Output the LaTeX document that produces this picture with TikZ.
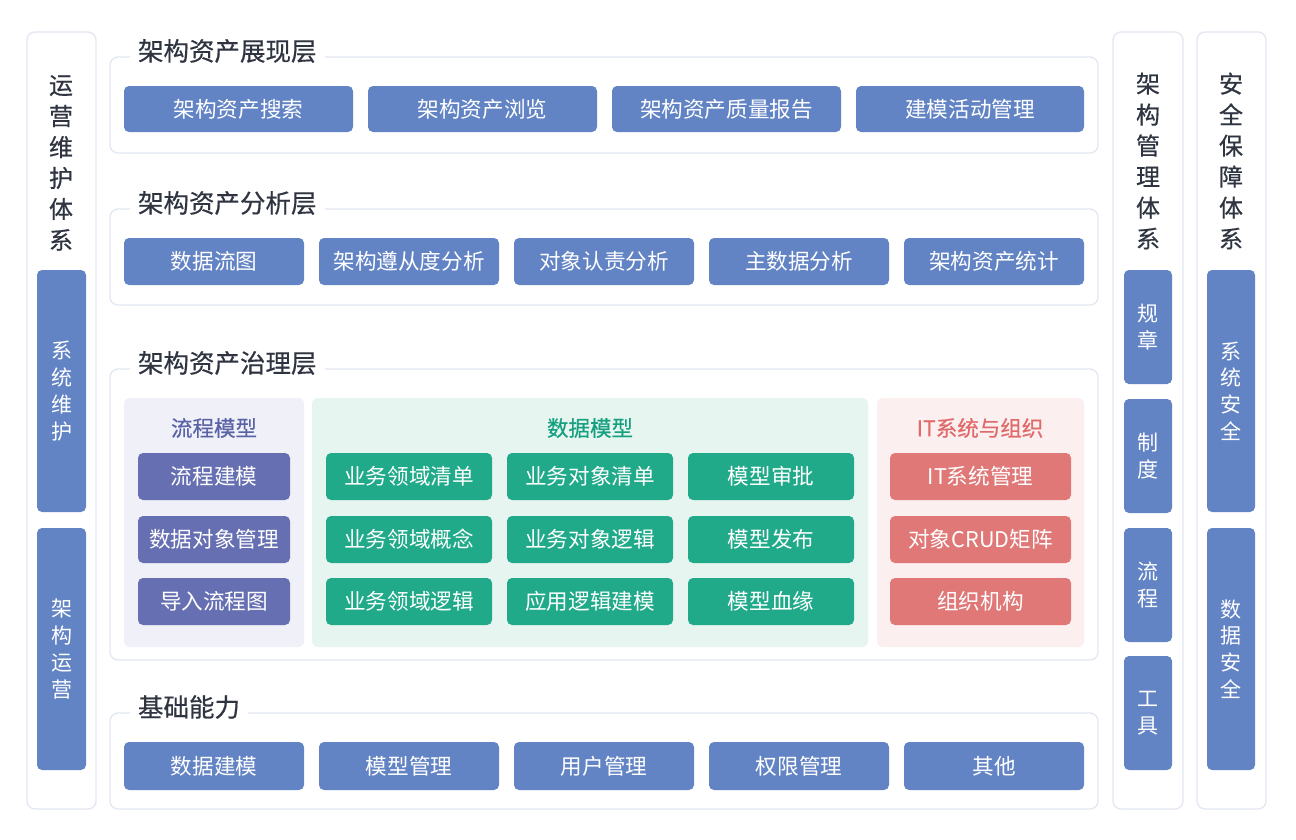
\documentclass[tikz,border=0pt]{standalone}
\usepackage{fontspec}
\setmainfont{Noto Sans CJK SC}
\newfontfamily\titlefont[FakeBold=0.5]{Noto Sans CJK SC}
\definecolor{cblue}{HTML}{6384C4}
\definecolor{cpurple}{HTML}{666FB2}
\definecolor{cpurplebg}{HTML}{EFF0F8}
\definecolor{cpurplet}{HTML}{5A63A6}
\definecolor{cgreen}{HTML}{20AA8A}
\definecolor{cgreenbg}{HTML}{E7F5F1}
\definecolor{cgreent}{HTML}{17A080}
\definecolor{cred}{HTML}{E07878}
\definecolor{credbg}{HTML}{FCEFEF}
\definecolor{credt}{HTML}{E06A6A}
\definecolor{cborder}{HTML}{E3E7F1}
\definecolor{ctitle}{HTML}{2F3441}
\newcommand\fs[2]{\fontsize{#1}{#2}\selectfont}
\newcommand\bx[7]{\node[#2, minimum width={(#5)-(#3)}, minimum height={(#6)-(#4)}] (#1) at ({((#3)+(#5))/2},{((#4)+(#6))/2}) {#7};}
\tikzset{
  base/.style={inner sep=0pt, outer sep=0pt},
  layer/.style={base, draw=cborder, line width=1.3pt, rounded corners=8pt, fill=white},
  sidebox/.style={base, draw=cborder, line width=1.3pt, rounded corners=8pt, fill=white},
  ltitle/.style={base, fill=white, inner xsep=8pt, inner ysep=3pt, text=ctitle, font=\titlefont\fs{25.5}{30}, anchor=west},
  btn/.style={base, rounded corners=5pt, text=white, font=\fs{21.6}{26}},
  bbtn/.style={btn, fill=cblue},
  pbtn/.style={btn, fill=cpurple},
  gbtn/.style={btn, fill=cgreen},
  rbtn/.style={btn, fill=cred},
  vbtn/.style={btn, fill=cblue, align=center, font=\fs{21}{26.8}},
  panel/.style={base, rounded corners=6pt},
  ptitle/.style={base, font=\titlefont\fs{21.5}{26}},
  vtitle/.style={base, align=center, text=ctitle, font=\titlefont\fs{24}{31}},
}
\begin{document}
\begin{tikzpicture}[x=1pt,y=-1pt]
\useasboundingbox[fill=white] (0,0) rectangle (1296,839);

% side columns
\bx{S1}{sidebox}{27}{32}{96}{809}{}
\node[vtitle] (S1t) at (61,163) {运\\营\\维\\护\\体\\系};
\bx{S1a}{vbtn}{37}{270}{86}{512}{系\\统\\维\\护}
\bx{S1b}{vbtn}{37}{528}{86}{770}{架\\构\\运\\营}

\bx{S2}{sidebox}{1113}{32}{1183}{809}{}
\node[vtitle] (S2t) at (1148,161) {架\\构\\管\\理\\体\\系};
\bx{S2a}{vbtn}{1124}{270}{1172}{384}{规\\章}
\bx{S2b}{vbtn}{1124}{399}{1172}{513}{制\\度}
\bx{S2c}{vbtn}{1124}{528}{1172}{642}{流\\程}
\bx{S2d}{vbtn}{1124}{656}{1172}{770}{工\\具}

\bx{S3}{sidebox}{1197}{32}{1266}{809}{}
\node[vtitle] (S3t) at (1231,161) {安\\全\\保\\障\\体\\系};
\bx{S3a}{vbtn}{1207}{270}{1255}{512}{系\\统\\安\\全}
\bx{S3b}{vbtn}{1207}{528}{1255}{770}{数\\据\\安\\全}

% layer 1
\bx{L1}{layer}{110}{57}{1098}{153}{}
\node[ltitle] (L1t) at (130,51) {架构资产展现层};
\bx{a1}{bbtn}{124}{86}{353}{132}{架构资产搜索}
\bx{a2}{bbtn}{368}{86}{597}{132}{架构资产浏览}
\bx{a3}{bbtn}{612}{86}{841}{132}{架构资产质量报告}
\bx{a4}{bbtn}{856}{86}{1084}{132}{建模活动管理}

% layer 2
\bx{L2}{layer}{110}{209}{1098}{305}{}
\node[ltitle] (L2t) at (130,203) {架构资产分析层};
\bx{b1}{bbtn}{124}{238}{304}{285}{数据流图}
\bx{b2}{bbtn}{319}{238}{499}{285}{架构遵从度分析}
\bx{b3}{bbtn}{514}{238}{694}{285}{对象认责分析}
\bx{b4}{bbtn}{709}{238}{889}{285}{主数据分析}
\bx{b5}{bbtn}{904}{238}{1084}{285}{架构资产统计}

% layer 3
\bx{L3}{layer}{110}{369}{1098}{660}{}
\node[ltitle] (L3t) at (130,363) {架构资产治理层};
\bx{P1}{panel, fill=cpurplebg}{124}{398}{304}{647}{}
\bx{P2}{panel, fill=cgreenbg}{312}{398}{868}{647}{}
\bx{P3}{panel, fill=credbg}{877}{398}{1084}{647}{}
\node[ptitle, text=cpurplet] (P1t) at (214,428) {流程模型};
\node[ptitle, text=cgreent] (P2t) at (590,428) {数据模型};
\node[ptitle, text=credt] (P3t) at (980,428) {IT系统与组织};

\bx{p1}{pbtn}{138}{453}{290}{500}{流程建模}
\bx{p2}{pbtn}{138}{516}{290}{563}{数据对象管理}
\bx{p3}{pbtn}{138}{578}{290}{625}{导入流程图}

\bx{g11}{gbtn}{326}{453}{492}{500}{业务领域清单}
\bx{g12}{gbtn}{507}{453}{673}{500}{业务对象清单}
\bx{g13}{gbtn}{688}{453}{854}{500}{模型审批}
\bx{g21}{gbtn}{326}{516}{492}{563}{业务领域概念}
\bx{g22}{gbtn}{507}{516}{673}{563}{业务对象逻辑}
\bx{g23}{gbtn}{688}{516}{854}{563}{模型发布}
\bx{g31}{gbtn}{326}{578}{492}{625}{业务领域逻辑}
\bx{g32}{gbtn}{507}{578}{673}{625}{应用逻辑建模}
\bx{g33}{gbtn}{688}{578}{854}{625}{模型血缘}

\bx{r1}{rbtn}{890}{453}{1071}{500}{IT系统管理}
\bx{r2}{rbtn}{890}{516}{1071}{563}{对象CRUD矩阵}
\bx{r3}{rbtn}{890}{578}{1071}{625}{组织机构}

% layer 4
\bx{L4}{layer}{110}{713}{1098}{809}{}
\node[ltitle] (L4t) at (130,707) {基础能力};
\bx{c1}{bbtn}{124}{742}{304}{790}{数据建模}
\bx{c2}{bbtn}{319}{742}{499}{790}{模型管理}
\bx{c3}{bbtn}{514}{742}{694}{790}{用户管理}
\bx{c4}{bbtn}{709}{742}{889}{790}{权限管理}
\bx{c5}{bbtn}{904}{742}{1084}{790}{其他}
\end{tikzpicture}
\end{document}
